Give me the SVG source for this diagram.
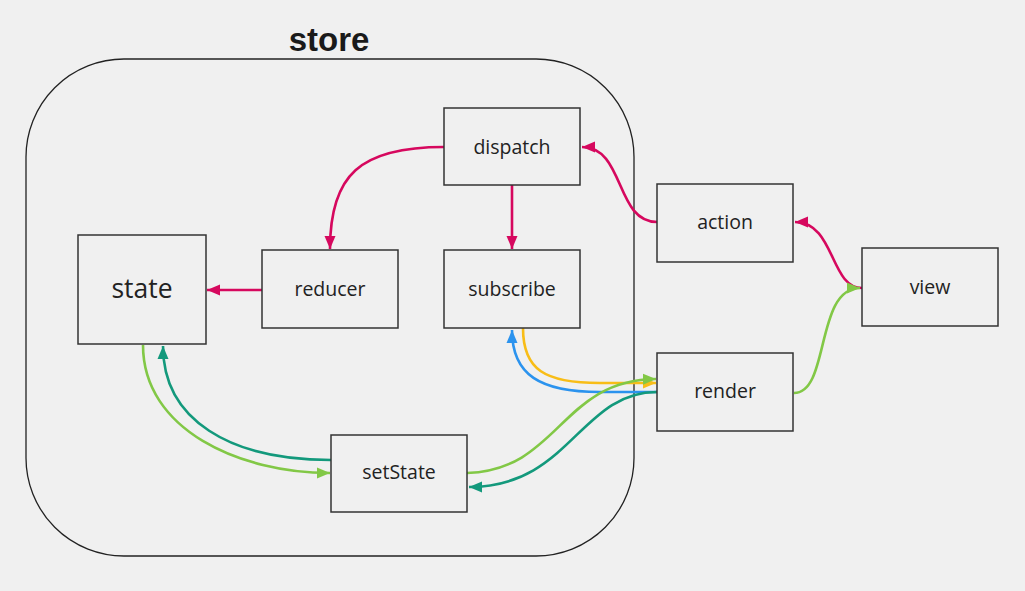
<svg xmlns="http://www.w3.org/2000/svg" width="1025" height="591" viewBox="0 0 1025 591">
<style>
.box{fill:#f0f0f0;stroke:#333;stroke-width:1.5}
.lbl{font-family:"Open Sans","Noto Sans",sans-serif;font-size:19.5px;fill:#222;text-anchor:middle;dominant-baseline:central}
.c{fill:none;stroke-width:2.6}
</style>
<defs>
<marker id="aR" markerUnits="userSpaceOnUse" markerWidth="14" markerHeight="12" refX="13" refY="6" orient="auto"><path d="M0,0.5 L13,6 L0,11.5 z" fill="#d6085e"/></marker>
<marker id="aG" markerUnits="userSpaceOnUse" markerWidth="14" markerHeight="12" refX="13" refY="6" orient="auto"><path d="M0,0.5 L13,6 L0,11.5 z" fill="#82c846"/></marker>
<marker id="aT" markerUnits="userSpaceOnUse" markerWidth="14" markerHeight="12" refX="13" refY="6" orient="auto"><path d="M0,0.5 L13,6 L0,11.5 z" fill="#13997c"/></marker>
<marker id="aB" markerUnits="userSpaceOnUse" markerWidth="14" markerHeight="12" refX="13" refY="6" orient="auto"><path d="M0,0.5 L13,6 L0,11.5 z" fill="#2b93ee"/></marker>
<marker id="aY" markerUnits="userSpaceOnUse" markerWidth="14" markerHeight="12" refX="13" refY="6" orient="auto"><path d="M0,0.5 L13,6 L0,11.5 z" fill="#f8bd17"/></marker>
</defs>
<rect width="1025" height="591" fill="#f0f0f0"/>
<g id="store">
<rect x="26" y="59" width="608" height="497" rx="98" ry="98" fill="none" stroke="#222" stroke-width="1.3"/>
<text x="329" y="51" style="font-family:'Liberation Sans',Arial,sans-serif;font-weight:bold;font-size:33px;fill:#1a1a1a;text-anchor:middle">store</text>
</g>
<g id="connectors">
<path class="c" stroke="#d6085e" d="M444,147 C360,147 330,175 330,249" marker-end="url(#aR)"/>
<path class="c" stroke="#d6085e" d="M512,185 L512,249" marker-end="url(#aR)"/>
<path class="c" stroke="#d6085e" d="M262,290 L207,290" marker-end="url(#aR)"/>
<path class="c" stroke="#d6085e" d="M657,222 C615,222 625,147 582,147" marker-end="url(#aR)"/>
<path class="c" stroke="#d6085e" d="M862,288 C830,288 835,222 795,222" marker-end="url(#aR)"/>
<path class="c" stroke="#82c846" d="M794,393 C830,393 815,288 860,288" marker-end="url(#aG)"/>
<path class="c" stroke="#f8bd17" d="M523,328 C523,370 545,383 600,383 L656,383" marker-end="url(#aY)"/>
<path class="c" stroke="#2b93ee" d="M657,392 L600,392 C540,392 512,375 512,330" marker-end="url(#aB)"/>
<path class="c" stroke="#82c846" d="M467,473 C560,470 560,380 656,379" marker-end="url(#aG)"/>
<path class="c" stroke="#13997c" d="M657,392 C580,392 570,487 469,487" marker-end="url(#aT)"/>
<path class="c" stroke="#82c846" d="M143,345 C143,430 240,473 330,473" marker-end="url(#aG)"/>
<path class="c" stroke="#13997c" d="M331,460 C230,460 163,420 163,346" marker-end="url(#aT)"/>
</g>
<g id="dispatch"><rect class="box" x="444" y="108" width="136" height="77"/><text class="lbl" x="512" y="146">dispatch</text></g>
<g id="reducer"><rect class="box" x="262" y="250" width="136" height="78"/><text class="lbl" x="330" y="288">reducer</text></g>
<g id="subscribe"><rect class="box" x="444" y="250" width="136" height="78"/><text class="lbl" x="512" y="288">subscribe</text></g>
<g id="state"><rect class="box" x="78" y="235" width="128" height="109"/><text class="lbl" x="142" y="288" style="font-size:26.5px">state</text></g>
<g id="setState"><rect class="box" x="331" y="435" width="136" height="77"/><text class="lbl" x="399" y="471">setState</text></g>
<g id="action"><rect class="box" x="657" y="184" width="136" height="78"/><text class="lbl" x="725" y="221">action</text></g>
<g id="render"><rect class="box" x="657" y="353" width="136" height="78"/><text class="lbl" x="725" y="390">render</text></g>
<g id="view"><rect class="box" x="862" y="248" width="136" height="78"/><text class="lbl" x="930" y="286">view</text></g>
</svg>
